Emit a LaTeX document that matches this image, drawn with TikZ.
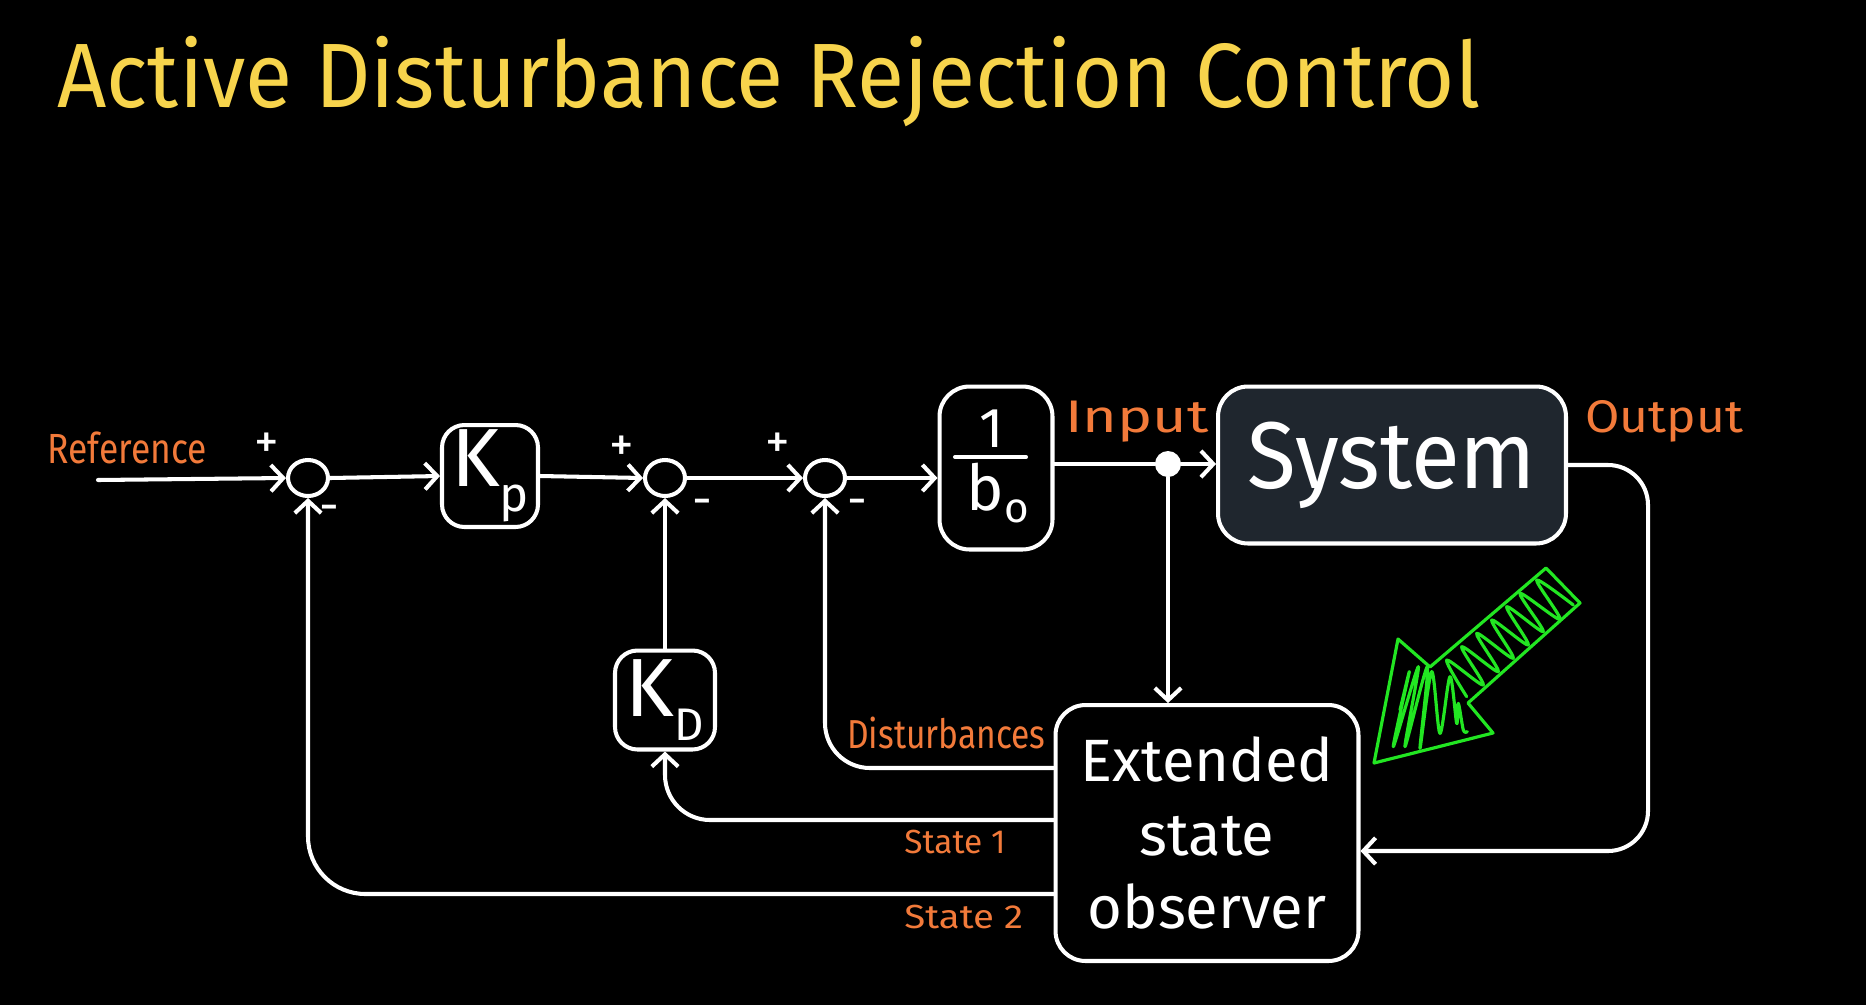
\documentclass[tikz,border=0pt]{standalone}
\usepackage{fontspec}
\setmainfont{Fira Sans}
\usetikzlibrary{arrows.meta,calc,shapes.geometric}
\definecolor{ttl}{HTML}{F7D44C}
\definecolor{lbl}{HTML}{F27A3A}
\definecolor{sysfill}{HTML}{1F262E}
\definecolor{grn}{HTML}{22E622}
\newcommand\hw[2]{\scalebox{#1}[1]{#2}}
\begin{document}
\begin{tikzpicture}[x=0.02cm, y=-0.02cm,
  >={Straight Barb[length=7pt,width=15pt,line width=2.3pt]},
  wire/.style={draw=white, line width=2.3pt, line cap=round, line join=round},
  conn/.style={wire, ->},
  blk/.style={draw=white, line width=2.3pt, rounded corners=0.45cm, text=white, inner sep=0pt},
  sumn/.style={ellipse, draw=white, line width=2.3pt, minimum width=0.8cm, minimum height=0.72cm, inner sep=0pt},
  lab/.style={text=lbl, inner sep=0pt, anchor=base west},
  pm/.style={text=white, inner sep=0pt, font=\fontsize{28}{28}\selectfont}]
\fill[black] (0,0) rectangle (1866,1005);
\useasboundingbox (0,0) rectangle (1866,1005);

% title
\node[text=ttl, inner sep=0pt, anchor=base west, font=\fontsize{52}{52}\selectfont] (title) at (57,107) {\hw{0.943}{Active Disturbance Rejection Control}};

% blocks
\node[sumn] (s1) at (308,478) {};
\node[sumn] (s2) at (665,478) {};
\node[sumn] (s3) at (825,478) {};
\node[blk, minimum width=1.92cm, minimum height=2.04cm, font=\fontsize{47}{47}\selectfont] (kp) at (490,476) {K\raisebox{-0.3em}{\fontsize{28}{28}\selectfont p}};
\node[blk, minimum width=2cm, minimum height=1.98cm, font=\fontsize{47}{47}\selectfont] (kd) at (665,700) {K\raisebox{-0.3em}{\fontsize{26}{26}\selectfont D}};
\node[blk, rounded corners=0.6cm, minimum width=2.26cm, minimum height=3.26cm] (binv) at (996,468) {};
\node[text=white, inner sep=0pt, font=\fontsize{32}{32}\selectfont] (one) at (992,429) {1};
\node[text=white, inner sep=0pt, font=\fontsize{36}{36}\selectfont] (bo) at (998,493) {b\raisebox{-0.2em}{\fontsize{24}{24}\selectfont o}};
\draw[wire] (955,457) -- (1026,457);
\node[blk, rounded corners=0.6cm, fill=sysfill, minimum width=6.96cm, minimum height=3.14cm, font=\fontsize{54}{54}\selectfont] (sys) at (1392,465) {\hw{0.94}{System}};
\node[blk, rounded corners=0.6cm, minimum width=6.06cm, minimum height=5.12cm, align=center, font=\fontsize{34}{41.7}\selectfont] (eso) at (1207,833) {Extended\\state\\observer};
\node[circle, fill=white, minimum size=0.52cm, inner sep=0pt] (dot) at (1168,464) {};

% sign labels
\node[pm] (p1) at (267,446) {+};
\node[pm] (m1) at (329,514) {-};
\node[pm] (p2) at (622,449) {+};
\node[pm] (m2) at (702,508) {-};
\node[pm] (p3) at (778,446) {+};
\node[pm] (m3) at (857,508) {-};

% orange labels
\node[lab, font=\fontsize{24}{24}\selectfont] (lref) at (47,463) {\hw{0.84}{Reference}};
\node[lab, font=\fontsize{26}{26}\selectfont] (lin) at (1065,432) {\hw{1.3}{Input}};
\node[lab, font=\fontsize{26}{26}\selectfont] (lout) at (1585,432) {\hw{1.09}{Output}};
\node[lab, font=\fontsize{23}{23}\selectfont] (ldist) at (847,748) {\hw{0.83}{Disturbances}};
\node[lab, font=\fontsize{19}{19}\selectfont] (ls1) at (904,853) {State 1};
\node[lab, font=\fontsize{19}{19}\selectfont] (ls2) at (904,928) {\hw{1.15}{State 2}};

% coordinates
\coordinate (rstart) at (98,480);
\coordinate (yd) at (0,768);
\coordinate (y1) at (0,820);
\coordinate (y2) at (0,894);
\coordinate (outc) at (1648,851);

% forward path
\draw[conn] (rstart) -- (s1.west);
\draw[conn] (s1.east) -- (kp.west);
\draw[conn] (kp.east) -- (s2.west);
\draw[conn] (s2.east) -- (s3.west);
\draw[conn] (s3.east) -- (s3.east -| binv.west);
\draw[wire] (binv.east |- dot) -- (dot);
\draw[conn] (dot) -- (dot -| sys.west);
\draw[conn] (dot) -- (dot |- eso.north);
\draw[conn, rounded corners=0.8cm] (sys.east) -| (outc) -- (outc -| eso.east);

% feedback
\draw[conn, rounded corners=0.9cm] (eso.west |- yd) -| (s3.south);
\draw[conn, rounded corners=0.9cm] (eso.west |- y1) -| (kd.south);
\draw[conn] (kd.north) -- (s2.south);
\draw[conn, rounded corners=1.15cm] (eso.west |- y2) -| (s1.south);

% green arrow
\begin{scope}[draw=grn, line width=1.8pt, line join=round, line cap=round]
\draw (1546,568) -- (1580,603) -- (1468,703) -- (1493,733) -- (1374,763) -- (1398,639) -- (1430,667) -- cycle;
\begin{scope}[shift={(1350,550)}, scale=1/3]
\draw plot[smooth, tension=0.5] coordinates {(670,165) (560,90) (630,208) (510,130) (580,245) (470,170) (535,285) (425,210) (490,325) (380,250) (445,365) (335,290) (400,405) (290,330) (350,440)};
\draw plot[smooth, tension=0.5] coordinates {(150,480) (178,365) (130,590) (205,350) (165,590) (232,350) (210,595) (245,365) (270,550) (300,380) (320,520) (325,460) (340,540) (352,545)};
\end{scope}
\end{scope}
\end{tikzpicture}
\end{document}
